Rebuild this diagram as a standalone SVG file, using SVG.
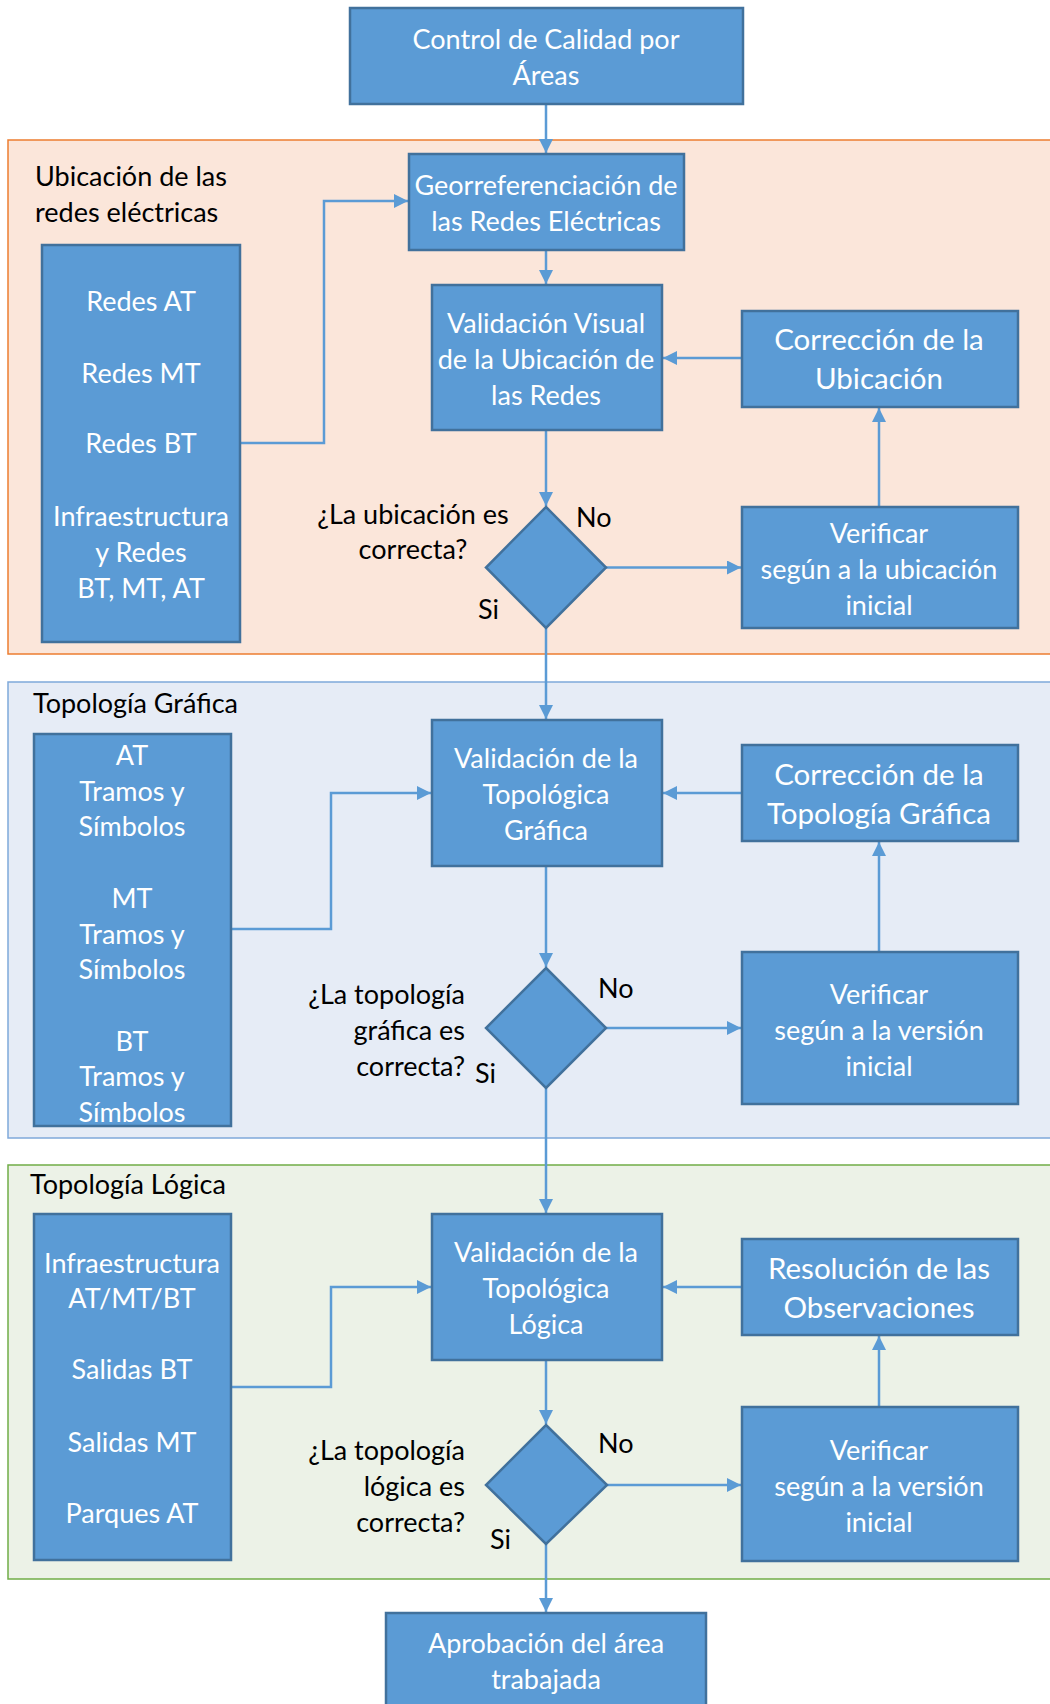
<svg xmlns="http://www.w3.org/2000/svg" width="1050" height="1704" viewBox="0 0 1050 1704">
<defs>
<marker id="ah" viewBox="0 0 14 14" refX="14" refY="7" markerWidth="14" markerHeight="14" markerUnits="userSpaceOnUse" orient="auto">
<path d="M0,0 L14,7 L0,14 z" fill="#5B9BD5"/>
</marker>
<style>
.box{fill:#5B9BD5;stroke:#41719C;stroke-width:2.5}
.t{font-family:Lato,"Open Sans",sans-serif;font-size:27px;fill:#ffffff;text-anchor:middle}
.tb{font-family:Lato,"Open Sans",sans-serif;font-size:29.5px;fill:#ffffff;text-anchor:middle}
.l{font-family:Lato,"Open Sans",sans-serif;font-size:27px;fill:#000000}
.c{fill:none;stroke:#5B9BD5;stroke-width:2.5}
.ca{fill:none;stroke:#5B9BD5;stroke-width:2.5;marker-end:url(#ah)}
</style>
</defs>
<rect width="1050" height="1704" fill="#ffffff"/>

<g id="panels">
<rect x="8" y="140" width="1050" height="514" fill="#FBE6DA" stroke="#ED7D31" stroke-width="1.5"/>
<rect x="8" y="682" width="1050" height="456" fill="#E6ECF6" stroke="#7FA9DA" stroke-width="1.5"/>
<rect x="8" y="1165" width="1050" height="414" fill="#ECF2E7" stroke="#70AD47" stroke-width="1.5"/>
<text class="l" x="35" y="186">Ubicación de las</text>
<text class="l" x="35" y="222">redes eléctricas</text>
<text class="l" x="33" y="713">Topología Gráfica</text>
<text class="l" x="30" y="1194">Topología Lógica</text>
</g>

<g id="connectors">
<path class="ca" d="M546,104 V153"/>
<path class="ca" d="M546,250 V284"/>
<path class="ca" d="M546,430 V506"/>
<path class="ca" d="M606,567.5 H741"/>
<path class="ca" d="M879,507 V408"/>
<path class="ca" d="M742,358 H663"/>
<path class="ca" d="M240,443 H324 V201 H408"/>
<path class="ca" d="M546,628 V719"/>
<path class="ca" d="M231,929 H331 V793 H431"/>
<path class="ca" d="M742,793 H663"/>
<path class="ca" d="M546,866 V967"/>
<path class="ca" d="M606,1028 H741"/>
<path class="ca" d="M879,952 V842"/>
<path class="ca" d="M546,1088 V1213"/>
<path class="ca" d="M231,1387 H331 V1287 H431"/>
<path class="ca" d="M742,1287 H663"/>
<path class="ca" d="M546,1360 V1424"/>
<path class="ca" d="M607,1485 H741"/>
<path class="ca" d="M879,1407 V1336"/>
<path class="ca" d="M546,1544 V1612"/>
</g>

<g id="n-control">
<rect class="box" x="350" y="8" width="393" height="96"/>
<text class="t" x="546" y="49">Control de Calidad por</text>
<text class="t" x="546" y="85">Áreas</text>
</g>

<g id="n-georef">
<rect class="box" x="409" y="154" width="275" height="96"/>
<text class="t" x="546" y="195">Georreferenciación de</text>
<text class="t" x="546" y="231">las Redes Eléctricas</text>
</g>

<g id="n-redes">
<rect class="box" x="42" y="245" width="198" height="397"/>
<text class="t" x="141" y="311">Redes AT</text>
<text class="t" x="141" y="383">Redes MT</text>
<text class="t" x="141" y="453">Redes BT</text>
<text class="t" x="141" y="526">Infraestructura</text>
<text class="t" x="141" y="562">y Redes</text>
<text class="t" x="141" y="598">BT, MT, AT</text>
</g>

<g id="n-valvisual">
<rect class="box" x="432" y="285" width="230" height="145"/>
<text class="t" x="546" y="333">Validación Visual</text>
<text class="t" x="546" y="369">de la Ubicación de</text>
<text class="t" x="546" y="405">las Redes</text>
</g>

<g id="n-corrubic">
<rect class="box" x="742" y="311" width="276" height="96"/>
<text class="tb" x="879" y="350">Corrección de la</text>
<text class="tb" x="879" y="389">Ubicación</text>
</g>

<g id="n-dec1">
<path class="box" d="M546,507 L606,567.5 L546,628 L486,567.5 Z"/>
<text class="l" x="413" y="524" text-anchor="middle">¿La ubicación es</text>
<text class="l" x="413" y="559" text-anchor="middle">correcta?</text>
<text class="l" x="576" y="527">No</text>
<text class="l" x="478" y="619">Si</text>
</g>

<g id="n-ver1">
<rect class="box" x="742" y="507" width="276" height="121"/>
<text class="t" x="879" y="543">Verificar</text>
<text class="t" x="879" y="579">según a la ubicación</text>
<text class="t" x="879" y="615">inicial</text>
</g>

<g id="n-tramos">
<rect class="box" x="34" y="734" width="197" height="392"/>
<text class="t" x="132" y="765">AT</text>
<text class="t" x="132" y="801">Tramos y</text>
<text class="t" x="132" y="836">Símbolos</text>
<text class="t" x="132" y="908">MT</text>
<text class="t" x="132" y="944">Tramos y</text>
<text class="t" x="132" y="979">Símbolos</text>
<text class="t" x="132" y="1051">BT</text>
<text class="t" x="132" y="1086">Tramos y</text>
<text class="t" x="132" y="1122">Símbolos</text>
</g>

<g id="n-valgraf">
<rect class="box" x="432" y="720" width="230" height="146"/>
<text class="t" x="546" y="768">Validación de la</text>
<text class="t" x="546" y="804">Topológica</text>
<text class="t" x="546" y="840">Gráfica</text>
</g>

<g id="n-corrtopo">
<rect class="box" x="742" y="745" width="276" height="96"/>
<text class="tb" x="879" y="785">Corrección de la</text>
<text class="tb" x="879" y="824">Topología Gráfica</text>
</g>

<g id="n-dec2">
<path class="box" d="M546,968 L606,1028 L546,1088 L486,1028 Z"/>
<text class="l" x="465" y="1004" text-anchor="end">¿La topología</text>
<text class="l" x="465" y="1040" text-anchor="end">gráfica es</text>
<text class="l" x="465" y="1076" text-anchor="end">correcta?</text>
<text class="l" x="598" y="998">No</text>
<text class="l" x="475" y="1083">Si</text>
</g>

<g id="n-ver2">
<rect class="box" x="742" y="952" width="276" height="152"/>
<text class="t" x="879" y="1004">Verificar</text>
<text class="t" x="879" y="1040">según a la versión</text>
<text class="t" x="879" y="1076">inicial</text>
</g>

<g id="n-infra">
<rect class="box" x="34" y="1214" width="197" height="346"/>
<text class="t" x="132" y="1273">Infraestructura</text>
<text class="t" x="132" y="1308">AT/MT/BT</text>
<text class="t" x="132" y="1379">Salidas BT</text>
<text class="t" x="132" y="1452">Salidas MT</text>
<text class="t" x="132" y="1523">Parques AT</text>
</g>

<g id="n-vallog">
<rect class="box" x="432" y="1214" width="230" height="146"/>
<text class="t" x="546" y="1262">Validación de la</text>
<text class="t" x="546" y="1298">Topológica</text>
<text class="t" x="546" y="1334">Lógica</text>
</g>

<g id="n-resol">
<rect class="box" x="742" y="1239" width="276" height="96"/>
<text class="tb" x="879" y="1279">Resolución de las</text>
<text class="tb" x="879" y="1318">Observaciones</text>
</g>

<g id="n-dec3">
<path class="box" d="M546,1425 L607,1485 L546,1544 L486,1485 Z"/>
<text class="l" x="465" y="1460" text-anchor="end">¿La topología</text>
<text class="l" x="465" y="1496" text-anchor="end">lógica es</text>
<text class="l" x="465" y="1532" text-anchor="end">correcta?</text>
<text class="l" x="598" y="1453">No</text>
<text class="l" x="490" y="1549">Si</text>
</g>

<g id="n-ver3">
<rect class="box" x="742" y="1407" width="276" height="154"/>
<text class="t" x="879" y="1460">Verificar</text>
<text class="t" x="879" y="1496">según a la versión</text>
<text class="t" x="879" y="1532">inicial</text>
</g>

<g id="n-aprob">
<rect class="box" x="386" y="1613" width="320" height="100"/>
<text class="t" x="546" y="1653">Aprobación del área</text>
<text class="t" x="546" y="1689">trabajada</text>
</g>
</svg>
